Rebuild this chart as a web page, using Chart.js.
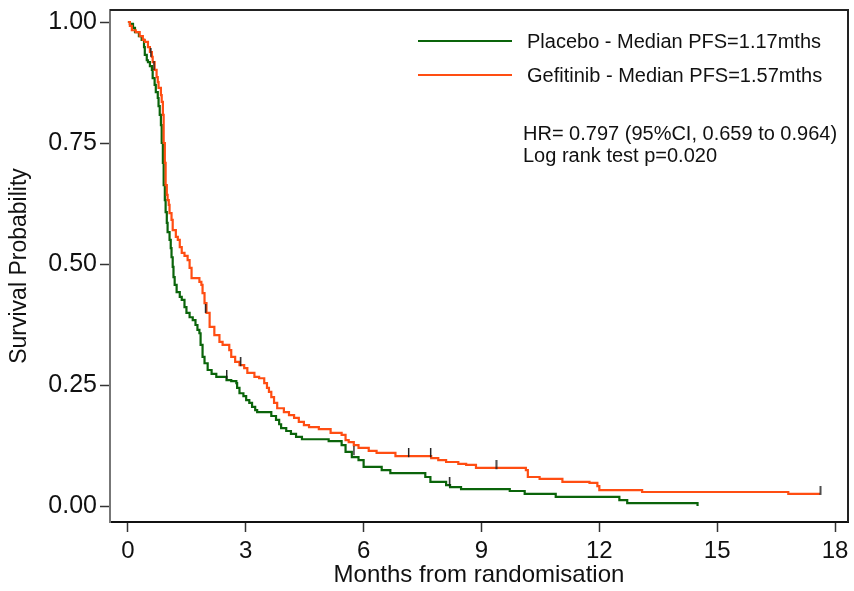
<!DOCTYPE html>
<html>
<head>
<meta charset="utf-8">
<script src="https://cdn.jsdelivr.net/npm/chart.js@4.4.1/dist/chart.umd.min.js"></script>
<style>
html,body{margin:0;padding:0;background:#fff;}
#wrap{width:854px;height:591px;}
</style>
</head>
<body>
<div id="wrap"><canvas id="c" width="854" height="591"></canvas></div>
<script>
// ---- Data ----
const placeboMonths = [0, 0.05, 0.13, 0.18, 0.28, 0.35, 0.41, 0.43, 0.48, 0.51, 0.56, 0.61, 0.63, 0.68, 0.71, 0.76, 0.78, 0.81, 0.84, 0.86, 0.89, 0.91, 0.94, 0.96, 0.99, 1.01, 1.06, 1.09, 1.11, 1.14, 1.16, 1.19, 1.24, 1.32, 1.37, 1.44, 1.49, 1.57, 1.65, 1.72, 1.77, 1.82, 1.85, 1.90, 1.95, 2.03, 2.13, 2.25, 2.51, 2.63, 2.76, 2.78, 2.84, 2.94, 3.01, 3.09, 3.16, 3.24, 3.29, 3.65, 3.77, 3.85, 3.90, 4.03, 4.15, 4.28, 4.43, 5.11, 5.44, 5.54, 5.70, 5.87, 6.00, 6.46, 6.68, 7.57, 7.70, 8.10, 8.20, 8.48, 9.72, 10.10, 10.89, 12.51, 12.71, 14.5];
const placeboSurv = [1.000, 0.996, 0.988, 0.979, 0.971, 0.963, 0.948, 0.932, 0.921, 0.917, 0.909, 0.901, 0.884, 0.870, 0.855, 0.843, 0.826, 0.808, 0.787, 0.750, 0.709, 0.663, 0.632, 0.607, 0.585, 0.566, 0.550, 0.533, 0.514, 0.494, 0.473, 0.457, 0.442, 0.432, 0.426, 0.411, 0.399, 0.390, 0.384, 0.374, 0.364, 0.357, 0.333, 0.308, 0.295, 0.281, 0.273, 0.267, 0.260, 0.258, 0.254, 0.244, 0.233, 0.227, 0.219, 0.213, 0.205, 0.198, 0.194, 0.186, 0.178, 0.169, 0.161, 0.155, 0.149, 0.143, 0.138, 0.134, 0.126, 0.112, 0.101, 0.095, 0.081, 0.074, 0.068, 0.060, 0.050, 0.043, 0.039, 0.035, 0.031, 0.025, 0.019, 0.012, 0.006, 0.000];

const gefitinibMonths = [0, 0.05, 0.10, 0.20, 0.30, 0.38, 0.43, 0.51, 0.56, 0.61, 0.63, 0.68, 0.73, 0.76, 0.78, 0.84, 0.86, 0.89, 0.91, 0.94, 0.96, 0.99, 1.01, 1.04, 1.06, 1.11, 1.14, 1.22, 1.27, 1.32, 1.37, 1.44, 1.52, 1.57, 1.62, 1.82, 1.87, 1.90, 1.95, 2.00, 2.08, 2.20, 2.33, 2.41, 2.58, 2.63, 2.73, 2.84, 2.96, 3.04, 3.22, 3.34, 3.47, 3.54, 3.59, 3.65, 3.72, 3.80, 3.97, 4.10, 4.23, 4.35, 4.48, 4.61, 4.86, 5.16, 5.44, 5.54, 5.62, 5.75, 5.87, 6.13, 6.33, 6.81, 7.72, 7.90, 8.10, 8.41, 8.61, 8.86, 10.13, 10.18, 10.48, 11.06, 11.75, 11.95, 12.00, 13.09, 16.81, 17.62];
const gefitinibSurv = [1.000, 0.992, 0.983, 0.979, 0.971, 0.963, 0.959, 0.948, 0.938, 0.928, 0.917, 0.901, 0.886, 0.876, 0.864, 0.849, 0.835, 0.808, 0.750, 0.709, 0.663, 0.643, 0.632, 0.622, 0.605, 0.591, 0.570, 0.556, 0.550, 0.535, 0.523, 0.517, 0.508, 0.492, 0.471, 0.463, 0.457, 0.440, 0.419, 0.399, 0.370, 0.353, 0.339, 0.333, 0.322, 0.308, 0.298, 0.291, 0.285, 0.275, 0.267, 0.264, 0.254, 0.244, 0.236, 0.225, 0.213, 0.202, 0.194, 0.188, 0.182, 0.174, 0.167, 0.163, 0.159, 0.151, 0.147, 0.136, 0.132, 0.126, 0.120, 0.114, 0.110, 0.103, 0.099, 0.095, 0.091, 0.087, 0.085, 0.079, 0.074, 0.060, 0.056, 0.050, 0.048, 0.041, 0.033, 0.029, 0.025, 0.025];

const gefitinibCensorMonths = [0.58, 0.66, 1.97, 2.86, 7.14, 7.70, 9.37, 17.62];
const gefitinibCensorSurv = [0.928, 0.901, 0.399, 0.289, 0.101, 0.101, 0.076, 0.023];
const placeboCensorMonths = [2.51, 5.75, 8.18];
const placeboCensorSurv = [0.262, 0.105, 0.041];

const xTickValues = [0, 3, 6, 9, 12, 15, 18];
const yTickValues = [0, 0.25, 0.5, 0.75, 1];
const seriesLabels = ['Placebo - Median PFS=1.17mths', 'Gefitinib - Median PFS=1.57mths'];
const statsLines = ['HR= 0.797 (95%CI, 0.659 to 0.964)', 'Log rank test p=0.020'];
const xTitle = 'Months from randomisation';
const yTitle = 'Survival Probability';

// ---- Styles ----
const GREEN = '#0a640a';
const ORANGE = '#ff4d12';
const FONT = '"Liberation Sans", Arial, sans-serif';

function toPoints(xs, ys) { return xs.map((x, i) => ({ x: x, y: ys[i] })); }

// censor tick marker: a short vertical line above the point
const censorMark = document.createElement('canvas');
censorMark.width = 3; censorMark.height = 18;
(function () {
  const g = censorMark.getContext('2d');
  g.fillStyle = '#1a1a1a';
  g.fillRect(1, 0, 1.4, 9);
})();

function noOverhang(scale) {
  scale.paddingTop = 0; scale.paddingBottom = 0;
  scale.paddingLeft = 0; scale.paddingRight = 0;
}

const framePlugin = {
  id: 'frameAndLegend',
  afterDraw(chart) {
    const ctx = chart.ctx;
    const a = chart.chartArea;
    ctx.save();
    // frame
    ctx.lineWidth = 2;
    ctx.strokeStyle = '#222';
    ctx.beginPath();
    ctx.moveTo(a.left, a.top); ctx.lineTo(a.right, a.top); ctx.lineTo(a.right, a.bottom);
    ctx.stroke();
    // legend
    const colors = [GREEN, ORANGE];
    const rows = [31, 65];
    ctx.font = '20px ' + FONT;
    ctx.textBaseline = 'middle';
    ctx.textAlign = 'left';
    for (let i = 0; i < 2; i++) {
      const y = a.top + rows[i];
      ctx.strokeStyle = colors[i];
      ctx.lineWidth = 2.2;
      ctx.beginPath();
      ctx.moveTo(a.left + 308, y); ctx.lineTo(a.left + 402, y);
      ctx.stroke();
      ctx.fillStyle = '#111';
      ctx.fillText(seriesLabels[i], a.left + 417, y + 1);
    }
    ctx.font = '20px ' + FONT;
    ctx.fillText(statsLines[0], a.left + 413, a.top + 124);
    ctx.fillText(statsLines[1], a.left + 413, a.top + 146);
    ctx.restore();
  }
};

new Chart(document.getElementById('c'), {
  type: 'line',
  data: {
    datasets: [
      {
        label: seriesLabels[0],
        data: toPoints(placeboMonths, placeboSurv),
        borderColor: GREEN, borderWidth: 2.2, stepped: 'before',
        pointRadius: 0, fill: false, order: 2
      },
      {
        label: seriesLabels[1],
        data: toPoints(gefitinibMonths, gefitinibSurv),
        borderColor: ORANGE, borderWidth: 2.2, stepped: 'before',
        pointRadius: 0, fill: false, order: 1
      },
      {
        label: 'censored-gef',
        data: toPoints(gefitinibCensorMonths, gefitinibCensorSurv),
        showLine: false, pointStyle: censorMark, pointRadius: 5, order: 0
      },
      {
        label: 'censored-pla',
        data: toPoints(placeboCensorMonths, placeboCensorSurv),
        showLine: false, pointStyle: censorMark, pointRadius: 5, order: 0
      }
    ]
  },
  options: {
    responsive: false,
    animation: false,
    devicePixelRatio: 1,
    layout: { padding: { left: 0, right: 2, top: 10, bottom: 0 } },
    plugins: { legend: { display: false }, tooltip: { enabled: false } },
    scales: {
      x: {
        type: 'linear',
        min: -0.456, max: 18.33,
        afterBuildTicks(scale) { scale.ticks = xTickValues.map(v => ({ value: v })); },
        afterFit(scale) { scale.height = 69; noOverhang(scale); },
        grid: { drawOnChartArea: false, drawTicks: true, tickLength: 10, color: '#333', tickWidth: 1.5 },
        border: { display: true, color: '#111', width: 2 },
        ticks: { color: '#111', padding: 5, maxRotation: 0, autoSkip: false, font: { family: FONT, size: 24 },
                 callback: v => String(v) },
        title: { display: true, text: xTitle, color: '#111', font: { family: FONT, size: 24 }, padding: { top: 0, bottom: 1 } }
      },
      y: {
        type: 'linear',
        min: -0.033, max: 1.0248,
        afterBuildTicks(scale) { scale.ticks = yTickValues.map(v => ({ value: v })); },
        afterFit(scale) { scale.width = 110; noOverhang(scale); },
        grid: { drawOnChartArea: false, drawTicks: true, tickLength: 10, color: '#333', tickWidth: 1.5 },
        border: { display: true, color: '#777', width: 2 },
        ticks: { color: '#111', padding: 3, autoSkip: false, font: { family: FONT, size: 25 },
                 callback: v => Number(v).toFixed(2) },
        title: { display: true, text: yTitle, color: '#111', font: { family: FONT, size: 23 }, padding: { top: 6, bottom: 0 } }
      }
    }
  },
  plugins: [framePlugin]
});
</script>
</body>
</html>
